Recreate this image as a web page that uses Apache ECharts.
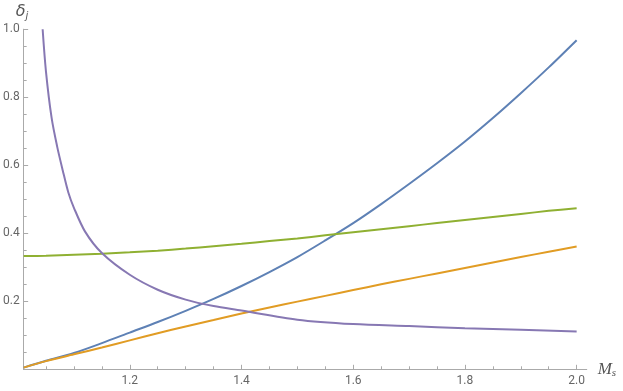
<!DOCTYPE html>
<html>
<head>
<meta charset="utf-8">
<script src="https://cdn.jsdelivr.net/npm/echarts@6/dist/echarts.min.js"></script>
<style>
  html, body { margin: 0; padding: 0; background: #fff; }
  #main { width: 623px; height: 391px; }
</style>
</head>
<body>
<div id="main"></div>
<script>
// values
const xs = [1.01, 1.05, 1.1, 1.15, 1.2, 1.25, 1.3, 1.35, 1.4, 1.45, 1.5, 1.55, 1.6, 1.65, 1.7, 1.75, 1.8, 1.85, 1.9, 1.95, 2.0]
const blue = [0.005, 0.025, 0.048, 0.077, 0.108, 0.139, 0.172, 0.207, 0.245, 0.286, 0.330, 0.379, 0.430, 0.486, 0.545, 0.606, 0.670, 0.739, 0.812, 0.888, 0.968]
const orange = [0.005, 0.024, 0.044, 0.064, 0.085, 0.106, 0.126, 0.145, 0.164, 0.182, 0.199, 0.216, 0.233, 0.250, 0.266, 0.282, 0.298, 0.314, 0.330, 0.346, 0.361]
const green = [0.333, 0.334, 0.337, 0.340, 0.344, 0.349, 0.355, 0.362, 0.369, 0.377, 0.385, 0.394, 0.403, 0.412, 0.421, 0.430, 0.439, 0.448, 0.457, 0.466, 0.474]

const xsPurple = [1.044, 1.05, 1.06, 1.07, 1.08, 1.09, 1.1, 1.12, 1.15, 1.2, 1.25, 1.3, 1.35, 1.4, 1.5, 1.6, 1.7, 1.8, 1.9, 2.0]
const purple = [1.0, 0.875, 0.74, 0.655, 0.585, 0.52, 0.475, 0.405, 0.342, 0.278, 0.234, 0.205, 0.186, 0.173, 0.146, 0.133, 0.127, 0.121, 0.116, 0.111]

const xMajor = [1.2, 1.4, 1.6, 1.8, 2.0]
const xMinor = [1.05, 1.1, 1.15, 1.25, 1.3, 1.35, 1.45, 1.5, 1.55, 1.65, 1.7, 1.75, 1.85, 1.9, 1.95]
const yMajor = [0.2, 0.4, 0.6, 0.8, 1.0]
const yMinor = [0.05, 0.1, 0.15, 0.25, 0.3, 0.35, 0.45, 0.5, 0.55, 0.65, 0.7, 0.75, 0.85, 0.9, 0.95]

const colors = ['#5E81B5', '#E19C24', '#8FB032', '#8778B3']

const pairs = (x, y) => x.map((v, i) => [v, y[i]])

var myChart = echarts.init(document.getElementById('main'))

const axisColor = '#aaaaaa'
const labelColor = '#666666'

let option = {
  animation: false,
  grid: { left: 21.7, right: 36.3, top: 29.3, bottom: 21.7 },
  xAxis: [
    {
      type: 'value',
      position: 'bottom',
      min: 1.01,
      max: 2.018,
      axisLine: { show: true, onZero: false, lineStyle: { color: axisColor, width: 1 } },
      axisTick: { show: true, inside: true, length: 4.5, customValues: xMajor, lineStyle: { color: axisColor } },
      axisLabel: {
        customValues: xMajor,
        formatter: (v) => v.toFixed(1),
        color: labelColor,
        fontSize: 12,
        fontFamily: 'Roboto',
        margin: 6,
      },
      splitLine: { show: false },
      name: '{m|M}{s|s}',
      nameLocation: 'end',
      nameGap: 11,
      nameTextStyle: {
        rich: {
          m: { fontFamily: 'Liberation Serif', fontStyle: 'italic', fontSize: 17, color: '#555' },
          s: { fontFamily: 'Liberation Serif', fontStyle: 'italic', fontSize: 11, color: '#555', padding: [8, 0, 0, 0] },
        },
      },
    },
    {
      // minor ticks only
      type: 'value',
      position: 'bottom',
      min: 1.01,
      max: 2.018,
      axisLine: { show: true, onZero: false, lineStyle: { color: axisColor, width: 1 } },
      axisTick: { show: true, inside: true, length: 3, customValues: xMinor, lineStyle: { color: axisColor } },
      axisLabel: { show: false },
      splitLine: { show: false },
    },
  ],
  yAxis: [
    {
      type: 'value',
      position: 'left',
      min: 0,
      max: 1.0,
      axisLine: { show: true, onZero: false, lineStyle: { color: axisColor, width: 1 } },
      axisTick: { show: true, inside: true, length: 4.5, customValues: yMajor, lineStyle: { color: axisColor } },
      axisLabel: {
        customValues: yMajor,
        formatter: (v) => v.toFixed(1),
        color: labelColor,
        fontSize: 12,
        fontFamily: 'Roboto',
        margin: 4,
      },
      splitLine: { show: false },
      name: '{d|δ}{j|j}',
      nameLocation: 'end',
      nameGap: 8,
      nameTextStyle: {
        align: 'left',
        padding: [0, 0, 0, -8],
        rich: {
          d: { fontFamily: 'DejaVu Sans', fontStyle: 'italic', fontSize: 16, color: '#555' },
          j: { fontFamily: 'DejaVu Sans', fontStyle: 'italic', fontSize: 10, color: '#555', padding: [9, 0, 0, 0] },
        },
      },
    },
    {
      // minor ticks only
      type: 'value',
      position: 'left',
      min: 0,
      max: 1.0,
      axisLine: { show: true, onZero: false, lineStyle: { color: axisColor, width: 1 } },
      axisTick: { show: true, inside: true, length: 3, customValues: yMinor, lineStyle: { color: axisColor } },
      axisLabel: { show: false },
      splitLine: { show: false },
    },
  ],
  series: [
    { name: 'blue', data: pairs(xs, blue) },
    { name: 'orange', data: pairs(xs, orange) },
    { name: 'green', data: pairs(xs, green) },
    { name: 'purple', data: pairs(xsPurple, purple) },
  ].map((s, i) => ({
    ...s,
    type: 'line',
    xAxisIndex: 0,
    yAxisIndex: 0,
    smooth: 0.3,
    showSymbol: false,
    clip: true,
    lineStyle: { color: colors[i], width: 2 },
    itemStyle: { color: colors[i] },
  })),
}
myChart.setOption(option)
</script>
</body>
</html>
